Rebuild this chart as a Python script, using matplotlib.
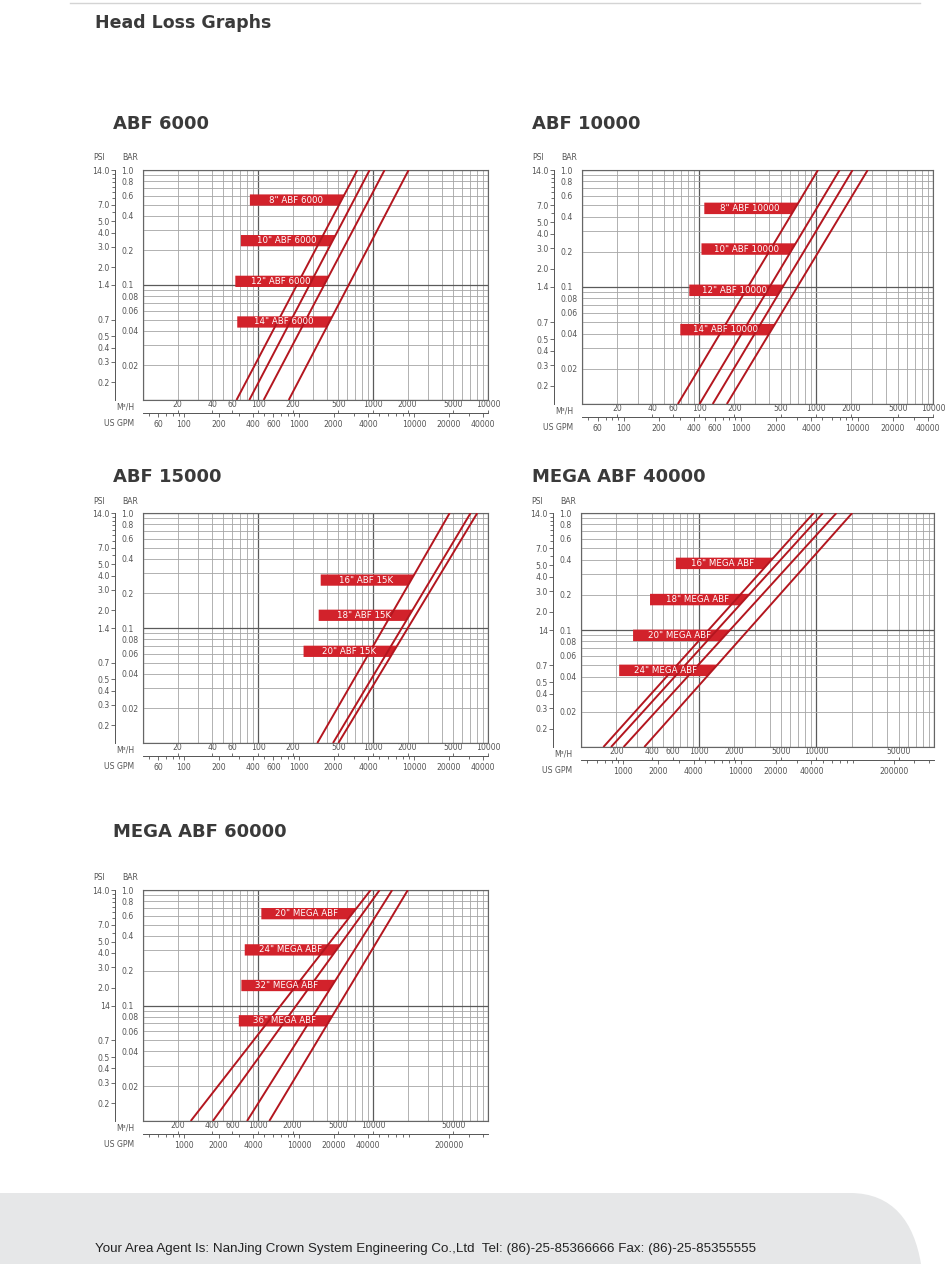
import numpy as np
import matplotlib
matplotlib.use('Agg')
import matplotlib.pyplot as plt
from matplotlib.patches import Polygon, PathPatch
from matplotlib.path import Path
from matplotlib.lines import Line2D
from matplotlib.ticker import LogLocator, NullLocator, NullFormatter

W, H = 950, 1264

# pressure range of every line (bar)
bar_ends = [0.01, 1.0]

# --- ABF 6000 : flow (m3/h) at 0.01 bar and at 1.0 bar ---
abf6000_names = ['8" ABF 6000', '10" ABF 6000', '12" ABF 6000', '14" ABF 6000']
abf6000_low = [65, 84, 112, 185]
abf6000_high = [731, 935, 1262, 2042]
abf6000_tag_bar = [0.548, 0.243, 0.1076, 0.0477]
abf6000_tag_left = [85, 71, 63.5, 66]

# --- ABF 10000 ---
abf10000_names = ['8" ABF 10000', '10" ABF 10000', '12" ABF 10000', '14" ABF 10000']
abf10000_low = [66, 101, 131, 173]
abf10000_high = [1040, 1592, 2055, 2768]
abf10000_tag_bar = [0.470, 0.211, 0.0937, 0.0432]
abf10000_tag_left = [111, 105, 82.6, 69.2]

# --- ABF 15000 ---
abf15000_names = ['16" ABF 15K', '18" ABF 15K', '20" ABF 15K']
abf15000_low = [328, 449, 500]
abf15000_high = [4645, 7063, 8072]
abf15000_tag_bar = [0.261, 0.129, 0.0627]
abf15000_tag_left = [351, 337, 249]

# --- MEGA ABF 40000 ---
mega40_names = ['16" MEGA ABF', '18" MEGA ABF', '20" MEGA ABF', '24" MEGA ABF']
mega40_low = [155, 180, 230, 345]
mega40_high = [9484, 11400, 14830, 20190]
mega40_tag_bar = [0.371, 0.182, 0.090, 0.0452]
mega40_tag_left = [640, 386, 277, 211]

# --- MEGA ABF 60000 ---
mega60_names = ['20" MEGA ABF', '24" MEGA ABF', '32" MEGA ABF', '36" MEGA ABF']
mega60_low = [260, 405, 803, 1254]
mega60_high = [9550, 11430, 14690, 20100]
mega60_tag_bar = [0.624, 0.303, 0.149, 0.0737]
mega60_tag_left = [1069, 767, 717, 681]

# axis ticks
bar_ticks = [1.0, 0.8, 0.6, 0.4, 0.2, 0.1, 0.08, 0.06, 0.04, 0.02]
bar_labels = ['1.0', '0.8', '0.6', '0.4', '0.2', '0.1', '0.08', '0.06', '0.04', '0.02']
psi_ticks = [14.0, 7.0, 5.0, 4.0, 3.0, 2.0, 1.4, 0.7, 0.5, 0.4, 0.3, 0.2]
psi_labels = ['14.0', '7.0', '5.0', '4.0', '3.0', '2.0', '1.4', '0.7', '0.5', '0.4', '0.3', '0.2']
psi_labels_mega = ['14.0', '7.0', '5.0', '4.0', '3.0', '2.0', '14', '0.7', '0.5', '0.4', '0.3', '0.2']
psi_minor = [13, 12, 11, 10, 9, 8, 6]

m3_small = [20, 40, 60, 100, 200, 500, 1000, 2000, 5000, 10000]
gpm_small = [60, 100, 200, 400, 600, 1000, 2000, 4000, 10000, 20000, 40000]
m3_big = [200, 400, 600, 1000, 2000, 5000, 10000, 50000]
gpm_big = [1000, 2000, 4000, 10000, 20000, 40000, 200000]

LINE = '#b3161f'
BOX = '#d2222b'
GREY = '#555555'
TXT = '#3a3a3a'


def fmt(v):
    return f'{v:g}'


def chart(left, top, w, h, xlim, names, low, high, tag_bar, tag_left, p_labels, m3, gpm):
    fig = plt.gcf()
    ax = fig.add_axes([left / W, 1 - (top + h) / H, w / W, h / H])
    ax.set_xscale('log')
    ax.set_yscale('log')
    ax.set_xlim(*xlim)
    ax.set_ylim(0.01, 1.0)
    ax.xaxis.set_minor_locator(LogLocator(base=10, subs=np.arange(2, 10)))
    ax.yaxis.set_minor_locator(LogLocator(base=10, subs=np.arange(2, 10)))
    ax.tick_params(which='both', length=0, labelbottom=False, labelleft=False)
    ax.grid(which='major', color='#5a5a5a', lw=0.9)
    ax.grid(which='minor', color='#a5a5a5', lw=0.6)
    for s in ax.spines.values():
        s.set_color('#666666')
        s.set_linewidth(0.8)

    # lines and name tags
    lb, lt = np.log10(bar_ends[0]), np.log10(bar_ends[1])
    for name, lo, hi, yb, xl in zip(names, low, high, tag_bar, tag_left):
        ax.plot([lo, hi], bar_ends, color=LINE, lw=1.4, zorder=4, solid_capstyle='butt')

        def x_on_line(y):
            f = (np.log10(y) - lb) / (lt - lb)
            return 10 ** (np.log10(lo) + f * (np.log10(hi) - np.log10(lo)))

        y0, y1 = yb / 10 ** 0.049, yb * 10 ** 0.049
        ax.add_patch(Polygon([(xl, y0), (x_on_line(y0), y0), (x_on_line(y1), y1), (xl, y1)],
                             closed=True, fc=BOX, ec='none', zorder=3))
        xc = np.sqrt(xl * x_on_line(yb))
        ax.text(xc, yb, name, color='white', fontsize=6.2, ha='center', va='center', zorder=5)

    # left scale: PSI | BAR
    off = -28.0 / w
    bar_ax = ax.secondary_yaxis(off)
    bar_ax.set_alignment('right')
    bar_ax.set_yticks(bar_ticks, labels=bar_labels)
    bar_ax.yaxis.set_minor_locator(NullLocator())
    bar_ax.tick_params(length=0, pad=4.5, labelsize=5.6, labelcolor=GREY)
    psi_ax = ax.secondary_yaxis(off, functions=(lambda b: b * 14.0, lambda p: p / 14.0))
    psi_ax.set_yticks(psi_ticks, labels=p_labels)
    psi_ax.set_yticks(psi_minor, minor=True)
    psi_ax.yaxis.set_minor_formatter(NullFormatter())
    psi_ax.tick_params(which='major', length=3, width=0.6, pad=0.8, labelsize=5.6,
                       labelcolor=GREY, color=GREY)
    psi_ax.tick_params(which='minor', length=2, width=0.6, color=GREY)
    for a in (bar_ax, psi_ax):
        for s in a.spines.values():
            s.set_color(GREY)
            s.set_linewidth(0.6)
    ax.text(-44.0 / w, 1 + 12.0 / h, 'PSI', transform=ax.transAxes, fontsize=5.6,
            color=GREY, ha='center', va='center')
    ax.text(-13.0 / w, 1 + 12.0 / h, 'BAR', transform=ax.transAxes, fontsize=5.6,
            color=GREY, ha='center', va='center')

    # bottom scale: M3/H above, US GPM below
    loc = -13.3 / h
    m3_ax = ax.secondary_xaxis(loc)
    m3_ax.set_alignment('top')
    m3_ax.set_xticks(m3, labels=[fmt(v) for v in m3])
    m3_ax.xaxis.set_minor_locator(NullLocator())
    m3_ax.tick_params(length=2.2, width=0.6, pad=0.8, labelsize=5.6, labelcolor=GREY, color=GREY)
    gpm_ax = ax.secondary_xaxis(loc, functions=(lambda q: q * 4.403, lambda g: g / 4.403))
    gpm_ax.set_xticks(gpm, labels=[fmt(v) for v in gpm])
    gpm_ax.xaxis.set_minor_locator(LogLocator(base=10, subs=np.arange(2, 10)))
    gpm_ax.xaxis.set_minor_formatter(NullFormatter())
    gpm_ax.tick_params(which='major', length=3, width=0.6, pad=1.5, labelsize=5.6,
                       labelcolor=GREY, color=GREY)
    gpm_ax.tick_params(which='minor', length=2, width=0.6, color=GREY)
    for a in (m3_ax, gpm_ax):
        for s in a.spines.values():
            s.set_color(GREY)
            s.set_linewidth(0.6)
    ax.text(-9.0 / w, -6.7 / h, 'M³/H', transform=ax.transAxes, fontsize=5.6,
            color=GREY, ha='right', va='center')
    ax.text(-9.0 / w, -23.3 / h, 'US GPM', transform=ax.transAxes, fontsize=5.6,
            color=GREY, ha='right', va='center')
    return ax


fig = plt.figure(figsize=(W / 100, H / 100), dpi=100)
fig.patch.set_facecolor('white')

# top rule and footer band
fig.add_artist(Line2D([70 / W, 920 / W], [1 - 3 / H, 1 - 3 / H], color='#d4d4d4', lw=1.0))
foot = [(0, 1193), (850, 1193), (893, 1193), (914, 1222), (921, 1264), (0, 1264), (0, 1193)]
codes = [Path.MOVETO, Path.LINETO, Path.CURVE4, Path.CURVE4, Path.CURVE4, Path.LINETO, Path.CLOSEPOLY]
foot_path = Path([(x / W, 1 - y / H) for x, y in foot], codes)
fig.add_artist(PathPatch(foot_path, transform=fig.transFigure, fc='#e6e7e8', ec='none', zorder=0))

fig.text(95 / W, 1 - 23 / H, 'Head Loss Graphs', fontsize=12.5, fontweight='bold',
         color=TXT, ha='left', va='center')
fig.text(113 / W, 1 - 124 / H, 'ABF 6000', fontsize=13, fontweight='bold', color=TXT, va='center')
fig.text(532 / W, 1 - 124 / H, 'ABF 10000', fontsize=13, fontweight='bold', color=TXT, va='center')
fig.text(113 / W, 1 - 477 / H, 'ABF 15000', fontsize=13, fontweight='bold', color=TXT, va='center')
fig.text(532 / W, 1 - 477 / H, 'MEGA ABF 40000', fontsize=13, fontweight='bold', color=TXT, va='center')
fig.text(113 / W, 1 - 832 / H, 'MEGA ABF 60000', fontsize=13, fontweight='bold', color=TXT, va='center')

chart(143, 170, 345, 230, (10, 10000), abf6000_names, abf6000_low, abf6000_high,
      abf6000_tag_bar, abf6000_tag_left, psi_labels, m3_small, gpm_small)
chart(582, 170, 351, 234, (10, 10000), abf10000_names, abf10000_low, abf10000_high,
      abf10000_tag_bar, abf10000_tag_left, psi_labels, m3_small, gpm_small)
chart(143, 513, 345, 230, (10, 10000), abf15000_names, abf15000_low, abf15000_high,
      abf15000_tag_bar, abf15000_tag_left, psi_labels, m3_small, gpm_small)
chart(581, 513, 353, 234, (100, 100000), mega40_names, mega40_low, mega40_high,
      mega40_tag_bar, mega40_tag_left, psi_labels_mega, m3_big, gpm_big)
chart(143, 890, 345, 231, (100, 100000), mega60_names, mega60_low, mega60_high,
      mega60_tag_bar, mega60_tag_left, psi_labels_mega, m3_big, gpm_big)

fig.text(95 / W, 1 - 1249 / H,
         'Your Area Agent Is: NanJing Crown System Engineering Co.,Ltd  Tel: (86)-25-85366666 Fax: (86)-25-85355555',
         fontsize=9.6, family=['Liberation Sans Narrow', 'Liberation Sans', 'DejaVu Sans'],
         color='#222222', ha='left', va='center')

fig.savefig('out.png', dpi=100)
